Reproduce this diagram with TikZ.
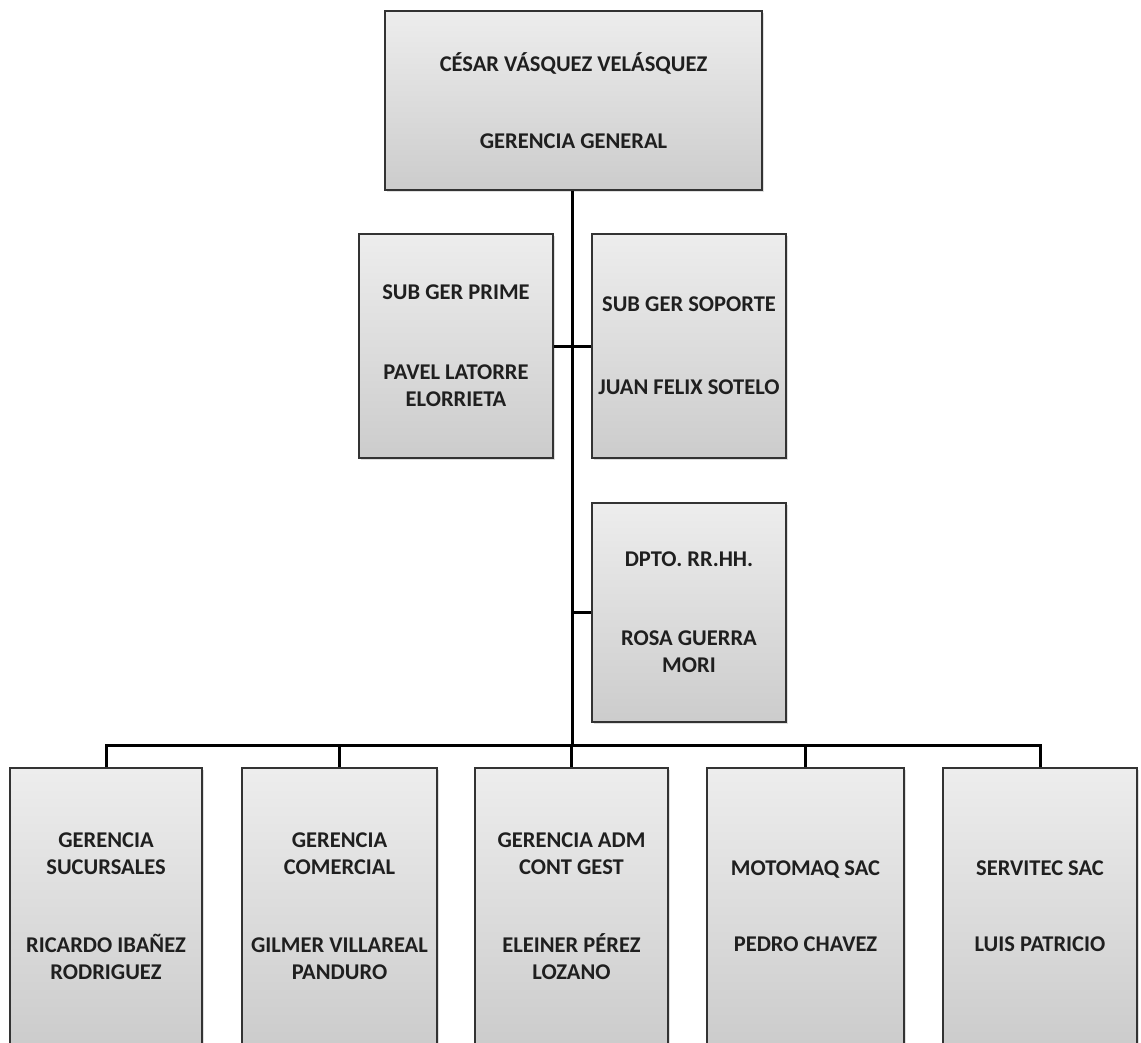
\documentclass[tikz,border=0pt]{standalone}
\usepackage{fontspec}
\setmainfont{Carlito}
\usetikzlibrary{shadows}
\begin{document}
\begin{tikzpicture}[x=1pt,y=-1pt,
  orgbox/.style={draw=black!80, line width=1.8pt, rectangle, inner sep=0pt,
    top color=gray!14, bottom color=gray!40, align=center,
    text=black!88, font=\fontsize{22.5}{27}\selectfont\bfseries,
    drop shadow={shadow xshift=1.5pt, shadow yshift=-1.5pt, opacity=0.25}},
  link/.style={draw=black, line width=3pt}]
\useasboundingbox (0,0) rectangle (1141,1042);
\clip (0,0) rectangle (1141,1042);
\fill[white] (0,0) rectangle (1141,1042);
% top
\node[orgbox, minimum width=377pt, minimum height=179pt] (top) at (573.5,100.5)
  {CÉSAR VÁSQUEZ VELÁSQUEZ\\[50pt]GERENCIA GENERAL};
% second level
\node[orgbox, minimum width=194pt, minimum height=224pt] (sp) at (456,346)
  {SUB GER PRIME\\[53pt]PAVEL LATORRE\\ELORRIETA};
\node[orgbox, minimum width=194pt, minimum height=224pt] (ss) at (689,346)
  {SUB GER SOPORTE\\[56pt]JUAN FELIX SOTELO};
\node[orgbox, minimum width=194pt, minimum height=219pt] (rh) at (689,612.5)
  {DPTO. RR.HH.\\[52pt]ROSA GUERRA\\MORI};
% bottom level
\node[orgbox, minimum width=192pt, minimum height=276pt] (b1) at (106,906)
  {GERENCIA\\SUCURSALES\\[51pt]RICARDO IBAÑEZ\\RODRIGUEZ};
\node[orgbox, minimum width=195pt, minimum height=276pt] (b2) at (339.5,906)
  {GERENCIA\\COMERCIAL\\[51pt]GILMER VILLAREAL\\PANDURO};
\node[orgbox, minimum width=193pt, minimum height=276pt] (b3) at (571.5,906)
  {GERENCIA ADM\\CONT GEST\\[51pt]ELEINER PÉREZ\\LOZANO};
\node[orgbox, minimum width=197pt, minimum height=276pt] (b4) at (805.5,906)
  {MOTOMAQ SAC\\[49pt]PEDRO CHAVEZ};
\node[orgbox, minimum width=194pt, minimum height=276pt] (b5) at (1040,906)
  {SERVITEC SAC\\[49pt]LUIS PATRICIO};
% connectors
\coordinate (j) at (572,745);
\draw[link] (top.south -| j) -- (j);
\draw[link] (sp.east) -- (ss.west);
\draw[link] (rh.west) -- (rh.west -| j);
\draw[link] (b1.north) |- (j) -| (b5.north);
\draw[link] (b2.north) -- (b2.north |- j);
\draw[link] (b3.north) -- (b3.north |- j);
\draw[link] (b4.north) -- (b4.north |- j);
\end{tikzpicture}
\end{document}
